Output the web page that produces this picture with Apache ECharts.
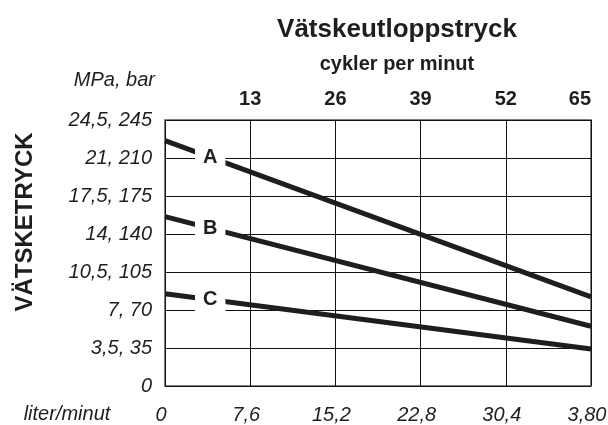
<!DOCTYPE html>
<html>
<head>
<meta charset="utf-8">
<script src="https://cdn.jsdelivr.net/npm/echarts@6/dist/echarts.min.js"></script>
<style>
  html, body { margin: 0; padding: 0; background: #fff; }
  #chart { width: 608px; height: 425px; }
</style>
</head>
<body>
<div id="chart"></div>
<script>
// Pump output pressure vs. cycles per minute (top axis) and flow in liter/minut (bottom axis)
const cycleTicks = [0, 13, 26, 39, 52, 65];
const literTicks = ['0', '7,6', '15,2', '22,8', '30,4', '3,80'];
const pressureTicks = ['0', '3,5, 35', '7, 70', '10,5, 105', '14, 140', '17,5, 175', '21, 210', '24,5, 245'];

const curveNames = ['A', 'B', 'C'];
const curveStart = [226, 156, 85];   // bar at 0 cycles/min
const curveEnd = [82, 55, 34];       // bar at 65 cycles/min
const labelAt = 6.9;                 // cycles/min where each curve letter sits

const FONT = '"Liberation Sans", Arial, Helvetica, sans-serif';
const INK = '#1e1e1e';
const cMin = cycleTicks[0], cMax = cycleTicks[cycleTicks.length - 1];

const series = curveNames.map((name, i) => {
  const yAtLabel = curveStart[i] + (curveEnd[i] - curveStart[i]) * (labelAt - cMin) / (cMax - cMin);
  return {
    name,
    type: 'line',
    xAxisIndex: 0,
    yAxisIndex: 0,
    data: [[cMin, curveStart[i]], [cMax, curveEnd[i]]],
    symbol: 'none',
    silent: true,
    lineStyle: { color: INK, width: 5, cap: 'butt' },
    z: 3,
    markPoint: {
      silent: true,
      symbol: 'circle',
      symbolSize: 1,
      itemStyle: { color: 'rgba(0,0,0,0)' },
      label: {
        show: true,
        position: 'inside',
        formatter: name,
        color: INK,
        fontFamily: FONT,
        fontWeight: 'bold',
        fontSize: 20,
        backgroundColor: '#fff',
        padding: [3, 8, 3, 8]
      },
      data: [{ coord: [labelAt, yAtLabel] }]
    }
  };
});

const chart = echarts.init(document.getElementById('chart'), null, { renderer: 'canvas' });
chart.setOption({
  animation: false,
  backgroundColor: '#fff',
  title: {
    text: 'Vätskeutloppstryck',
    subtext: 'cykler per minut',
    left: 392,
    top: 12,
    textAlign: 'center',
    itemGap: 11,
    textStyle: { fontFamily: FONT, fontWeight: 'bold', fontSize: 26, color: INK },
    subtextStyle: { fontFamily: FONT, fontWeight: 'bold', fontSize: 20, color: INK }
  },
  grid: {
    left: 165, right: 17, top: 120, bottom: 39,
    outerBoundsMode: 'none',
    containLabel: false,
    show: true,
    borderColor: '#555',
    borderWidth: 1.5,
    backgroundColor: 'transparent'
  },
  xAxis: [
    {
      type: 'value',
      position: 'top',
      min: cMin, max: cMax, interval: 13,
      axisLine: { show: false },
      axisTick: { show: false },
      splitLine: { show: true, lineStyle: { color: '#111', width: 1 } },
      axisLabel: {
        margin: 11,
        alignMaxLabel: 'right',
        fontFamily: FONT, fontWeight: 'bold', fontSize: 20, color: INK,
        formatter: v => (v === cMin ? '' : String(v))
      }
    },
    {
      type: 'value',
      position: 'bottom',
      min: 0, max: literTicks.length - 1, interval: 1,
      axisLine: { show: false },
      axisTick: { show: false },
      splitLine: { show: false },
      axisLabel: {
        margin: 19,
        padding: [0, 8, 0, 0],
        fontFamily: FONT, fontStyle: 'italic', fontSize: 20, color: INK,
        formatter: v => literTicks[Math.round(v)]
      }
    }
  ],
  yAxis: {
    type: 'value',
    min: 0, max: 245, interval: 35,
    axisLine: { show: false },
    axisTick: { show: false },
    splitLine: { show: true, lineStyle: { color: '#111', width: 1 } },
    axisLabel: {
      margin: 13,
      fontFamily: FONT, fontStyle: 'italic', fontSize: 20, color: INK,
      formatter: v => pressureTicks[Math.round(v / 35)]
    }
  },
  graphic: [
    {
      type: 'text',
      x: 25, y: 222,
      rotation: Math.PI / 2,
      style: {
        text: 'VÄTSKETRYCK', fontFamily: FONT, fontWeight: 'bold', fontSize: 24,
        fill: INK, align: 'center', verticalAlign: 'middle'
      }
    },
    {
      type: 'text',
      x: 155, y: 80,
      style: {
        text: 'MPa, bar', fontFamily: FONT, fontStyle: 'italic', fontSize: 20,
        fill: INK, align: 'right', verticalAlign: 'middle'
      }
    },
    {
      type: 'text',
      x: 67, y: 414,
      style: {
        text: 'liter/minut', fontFamily: FONT, fontStyle: 'italic', fontSize: 20,
        fill: INK, align: 'center', verticalAlign: 'middle'
      }
    }
  ],
  series
});
</script>
</body>
</html>
